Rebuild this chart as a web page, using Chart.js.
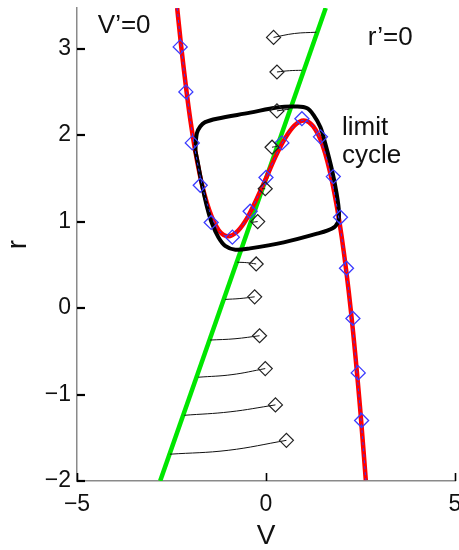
<!DOCTYPE html>
<html>
<head>
<meta charset="utf-8">
<script src="https://cdn.jsdelivr.net/npm/chart.js@4.4.1/dist/chart.umd.min.js"></script>
<style>
  body { margin: 0; background: #fff; }
</style>
</head>
<body>
<canvas id="phaseChart" width="459" height="550"></canvas>
<script>
// V'=0 nullcline (cubic)
var cubicV = [-2.35, -2.25, -2.0, -1.75, -1.5, -1.25, -1.0, -0.75, -0.5, -0.25, 0, 0.25, 0.5, 0.75, 1.0, 1.25, 1.5, 1.75, 2.0, 2.25, 2.5, 2.64];
var cubicR = [3.47, 3.05, 2.17, 1.54, 1.13, 0.90, 0.83, 0.89, 1.04, 1.26, 1.50, 1.75, 1.96, 2.11, 2.17, 2.10, 1.88, 1.46, 0.83, -0.05, -1.21, -1.99];

// blue diamonds sitting on the cubic
var blueV = [-2.27, -2.12, -1.95, -1.74, -1.45, -0.89, -0.42, 0.0, 0.42, 0.95, 1.44, 1.78, 1.97, 2.13, 2.30, 2.44, 2.53];
var blueR = [3.02, 2.50, 1.91, 1.42, 0.99, 0.82, 1.12, 1.51, 1.91, 2.19, 1.98, 1.52, 1.05, 0.46, -0.12, -0.75, -1.30];

// r'=0 nullcline (straight line)
var lineV = [-2.80, 1.58];
var lineR = [-2.00, 3.47];

// limit cycle
var cycleV = [-1.87, -1.83, -1.74, -1.61, -1.30, -0.42, 0.29, 0.82, 1.09, 1.26, 1.44, 1.57, 1.75, 1.87, 1.93, 1.90, 1.75, 1.35, 0.47, -0.42, -0.81, -1.08, -1.26, -1.43, -1.56, -1.70, -1.80, -1.87];
var cycleR = [1.82, 2.02, 2.10, 2.15, 2.19, 2.26, 2.32, 2.33, 2.31, 2.23, 2.09, 1.90, 1.59, 1.32, 1.11, 0.99, 0.92, 0.86, 0.76, 0.69, 0.675, 0.72, 0.82, 0.98, 1.17, 1.44, 1.67, 1.82];

// short trajectories starting on r'=0, ending in a black diamond
var trajStartV = [1.33, 0.95, 0.62, 0.29, -0.10, -0.40, -0.76, -1.08, -1.48, -1.79, -2.16, -2.54];
var trajStartR = [3.19, 2.75, 2.30, 1.87, 1.38, 0.99, 0.53, 0.10, -0.37, -0.80, -1.24, -1.69];
var trajMidV = [0.75, 0.62, 0.45, 0.22, -0.06, -0.31, -0.51, -0.69, -0.82, -0.90, -0.95, -1.00];
var trajMidR = [3.175, 2.745, 2.29, 1.865, 1.38, 0.995, 0.525, 0.11, -0.355, -0.77, -1.20, -1.645];
var trajEndV = [0.20, 0.29, 0.29, 0.16, -0.02, -0.22, -0.26, -0.30, -0.17, -0.02, 0.25, 0.54];
var trajEndR = [3.13, 2.73, 2.28, 1.86, 1.38, 1.00, 0.51, 0.13, -0.32, -0.70, -1.12, -1.53];

// axis ticks
var xTicks = [-5, 0, 5];
var yTicks = [-2, -1, 0, 1, 2, 3];

// text labels in data coordinates
var noteText = ["V\u2019=0", "r\u2019=0", "limit", "cycle"];
var noteV = [-4.45, 2.69, 2.01, 2.01];
var noteR = [3.18, 3.04, 2.00, 1.68];

var FONT = '"Liberation Sans", Arial, Helvetica, sans-serif';

function toPoints(vs, rs) {
    var pts = [];
    for (var i = 0; i < vs.length; i++) {
        pts.push({ x: vs[i], y: rs[i] });
    }
    return pts;
}

// inward tick marks + text labels
var extrasPlugin = {
    id: 'extras',
    afterDraw: function (chart) {
        var ctx = chart.ctx;
        var area = chart.chartArea;
        var sx = chart.scales.x;
        var sy = chart.scales.y;
        ctx.save();
        ctx.strokeStyle = '#000';
        ctx.lineWidth = 1.6;
        xTicks.forEach(function (t) {
            var px = Math.round(sx.getPixelForValue(t)) + 0.5;
            ctx.beginPath();
            ctx.moveTo(px, area.bottom);
            ctx.lineTo(px, area.bottom - 8);
            ctx.stroke();
        });
        ctx.lineWidth = 2.2;
        yTicks.forEach(function (t) {
            var py = Math.round(sy.getPixelForValue(t));
            ctx.beginPath();
            ctx.moveTo(area.left, py);
            ctx.lineTo(area.left + 8, py);
            ctx.stroke();
        });
        ctx.fillStyle = '#111';
        ctx.font = '26px ' + FONT;
        ctx.textBaseline = 'alphabetic';
        ctx.textAlign = 'left';
        for (var i = 0; i < noteText.length; i++) {
            ctx.fillText(noteText[i], sx.getPixelForValue(noteV[i]), sy.getPixelForValue(noteR[i]));
        }
        ctx.restore();
    }
};

var vDatasets = [
    {
        data: toPoints(lineV, lineR),
        borderColor: '#00e600',
        borderWidth: 4.5,
        pointRadius: 0,
        order: 6
    },
    {
        data: toPoints(cubicV, cubicR),
        borderColor: '#ff0000',
        borderWidth: 4.5,
        pointRadius: 0,
        cubicInterpolationMode: 'monotone',
        order: 5
    },
    {
        data: toPoints(cycleV, cycleR),
        borderColor: '#000',
        borderWidth: 4,
        pointRadius: 0,
        tension: 0.35,
        order: 4
    },
    {
        data: toPoints(cubicV, cubicR),
        borderColor: '#3535ff',
        borderWidth: 1,
        borderDash: [3, 3],
        pointRadius: 0,
        cubicInterpolationMode: 'monotone',
        order: 3
    },
    {
        data: toPoints(blueV, blueR),
        showLine: false,
        pointStyle: 'rectRot',
        pointRadius: 7,
        pointBorderWidth: 1.3,
        pointBorderColor: '#3b3bff',
        pointBackgroundColor: 'rgba(0,0,0,0)',
        order: 2
    }
];

for (var i = 0; i < trajEndV.length; i++) {
    vDatasets.push({
        data: [
            { x: trajStartV[i], y: trajStartR[i] },
            { x: trajMidV[i], y: trajMidR[i] },
            { x: trajEndV[i], y: trajEndR[i] }
        ],
        borderColor: '#111',
        borderWidth: 1,
        pointRadius: 0,
        tension: 0.4,
        order: 1
    });
}

vDatasets.push({
    data: toPoints(trajEndV, trajEndR),
    showLine: false,
    pointStyle: 'rectRot',
    pointRadius: 7,
    pointBorderWidth: 1.2,
    pointBorderColor: '#222',
    pointBackgroundColor: 'rgba(0,0,0,0)',
    order: 0
});

new Chart(document.getElementById('phaseChart').getContext('2d'), {
    type: 'line',
    data: { datasets: vDatasets },
    plugins: [extrasPlugin],
    options: {
        responsive: false,
        animation: false,
        devicePixelRatio: 1,
        layout: { autoPadding: false, padding: { left: 0, right: 4, top: 8, bottom: 0 } },
        plugins: {
            legend: { display: false },
            tooltip: { enabled: false }
        },
        scales: {
            x: {
                type: 'linear',
                min: -5,
                max: 5,
                grid: { display: false, drawTicks: false },
                border: { display: true, color: '#8a8a8a', width: 1.5 },
                ticks: {
                    stepSize: 5,
                    includeBounds: false,
                    padding: 10,
                    color: '#111',
                    font: { family: FONT, size: 23 },
                    callback: function (v) { return String(v).replace('-', '\u2212'); }
                },
                title: {
                    display: true,
                    text: 'V',
                    color: '#111',
                    font: { family: FONT, size: 28, lineHeight: 1 },
                    padding: { top: 0, bottom: 0 }
                },
                afterFit: function (scale) {
                    scale.height = 69;
                    scale.paddingLeft = 0;
                    scale.paddingRight = 0;
                }
            },
            y: {
                type: 'linear',
                min: -2,
                max: 3.47,
                grid: { display: false, drawTicks: false },
                border: { display: true, color: '#8a8a8a', width: 1.5 },
                ticks: {
                    stepSize: 1,
                    includeBounds: false,
                    padding: 6,
                    color: '#111',
                    font: { family: FONT, size: 23 },
                    callback: function (v) { return String(v).replace('-', '\u2212'); }
                },
                title: {
                    display: true,
                    text: 'r',
                    color: '#111',
                    font: { family: FONT, size: 28, lineHeight: 1 },
                    padding: { top: 4, bottom: 0 }
                },
                afterFit: function (scale) {
                    scale.width = 77;
                    scale.paddingTop = 0;
                    scale.paddingBottom = 0;
                }
            }
        }
    }
});
</script>
</body>
</html>
